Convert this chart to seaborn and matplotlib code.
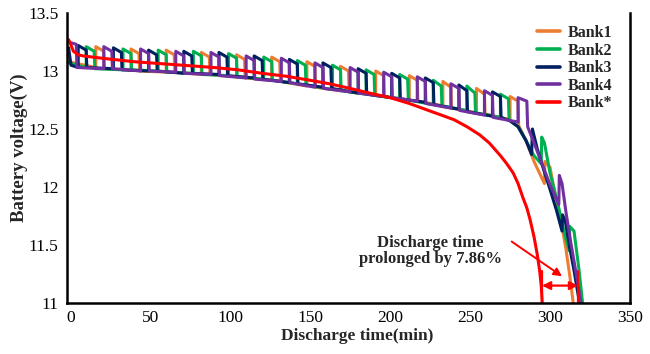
import numpy as np
import pandas as pd
import matplotlib
matplotlib.use("Agg")
import matplotlib.pyplot as plt
import seaborn as sns

# ---------------- data ----------------
series_names = ["Bank1", "Bank2", "Bank3", "Bank4", "Bank*"]
series_colors = ["#ED7D31", "#00B050", "#002060", "#7030A0", "#FF0000"]

# Bank1 (orange)
bank1_t = [-1, 16, 16, 16, 21, 21.4, 38, 38, 43, 43.4, 60, 60, 65, 65.4, 82, 82, 87, 87.4,
           104, 104, 109, 109.4, 126, 126, 131, 131.4, 148, 148, 153, 153.4, 169, 169, 174, 174.4,
           191, 191, 196, 196.4, 212, 212, 217, 217.4, 233, 233, 238, 238.4, 254, 254, 259, 259.4,
           275, 275, 280, 280.4, 285, 290, 296.5, 296.8, 300, 302, 304, 307, 310, 312.5, 314.7]
bank1_v = [13.08, 13.03, 13.03, 13.21, 13.17, 13.02, 13.01, 13.19, 13.15, 13.00, 12.99, 13.18, 13.14, 12.99,
           12.97, 13.16, 13.12, 12.97, 12.95, 13.14, 13.10, 12.94, 12.92, 13.12, 13.08, 12.91,
           12.87, 13.08, 13.04, 12.86, 12.83, 13.04, 13.00, 12.82, 12.79, 13.00, 12.96, 12.78,
           12.75, 12.96, 12.92, 12.74, 12.70, 12.91, 12.86, 12.68, 12.64, 12.85, 12.80, 12.63,
           12.58, 12.78, 12.74, 12.53, 12.40, 12.22, 12.03, 12.22, 12.17, 12.02, 11.89, 11.70,
           11.46, 11.22, 10.98]

# Bank2 (green)
bank2_t = [-1, 10, 10, 15, 15.4, 33, 33, 38, 38.4, 55, 55, 60, 60.4, 77, 77, 82, 82.4,
           99, 99, 104, 104.4, 121, 121, 126, 126.4, 142, 142, 147, 147.4, 164, 164, 169, 169.4,
           185, 185, 190, 190.4, 206, 206, 211, 211.4, 227, 227, 232, 232.4, 248, 248, 253, 253.4,
           269, 269, 274, 274.4, 280, 285, 290, 294.5, 294.8, 296.5, 300, 305, 309, 312, 312.3,
           315, 318, 320.5]
bank2_v = [13.07, 13.03, 13.21, 13.17, 13.02, 13.01, 13.19, 13.15, 13.01, 13.00, 13.18, 13.14, 12.99,
           12.98, 13.17, 13.13, 12.97, 12.96, 13.15, 13.11, 12.95, 12.93, 13.12, 13.08, 12.92,
           12.89, 13.09, 13.05, 12.88, 12.84, 13.05, 13.01, 12.83, 12.80, 13.01, 12.97, 12.79,
           12.76, 12.97, 12.93, 12.75, 12.71, 12.92, 12.87, 12.70, 12.66, 12.87, 12.81, 12.64,
           12.60, 12.80, 12.76, 12.58, 12.52, 12.40, 12.27, 12.20, 12.43, 12.38, 12.12, 11.85,
           11.60, 11.45, 11.66, 11.62, 11.30, 10.98]

# Bank3 (navy)
bank3_t = [-1, 0.5, 5, 5, 10, 10.4, 27, 27, 32, 32.4, 49, 49, 54, 54.4, 71, 71, 76, 76.4,
           93, 93, 98, 98.4, 115, 115, 120, 120.4, 137, 137, 142, 142.4, 158, 158, 163, 163.4,
           180, 180, 185, 185.4, 201, 201, 206, 206.4, 222, 222, 227, 227.4, 243, 243, 248, 248.4,
           264, 264, 269, 269.4, 275, 280, 285, 288.5, 289, 292, 296, 300, 304, 307.5, 307.8,
           309.5, 312, 315, 318.7]
bank3_v = [13.20, 13.05, 13.03, 13.22, 13.18, 13.03, 13.02, 13.20, 13.16, 13.01, 13.00, 13.18, 13.14, 13.00,
           12.98, 13.17, 13.13, 12.98, 12.97, 13.16, 13.12, 12.96, 12.94, 13.13, 13.09, 12.93,
           12.90, 13.10, 13.06, 12.89, 12.86, 13.07, 13.03, 12.85, 12.81, 13.02, 12.98, 12.80,
           12.77, 12.98, 12.94, 12.76, 12.73, 12.94, 12.90, 12.71, 12.67, 12.88, 12.83, 12.65,
           12.61, 12.82, 12.78, 12.60, 12.57, 12.52, 12.40, 12.28, 12.50, 12.33, 12.15, 11.98,
           11.80, 11.62, 11.76, 11.71, 11.50, 11.28, 10.98]

# Bank4 (purple)
bank4_t = [-1, 3.8, 4.2, 21, 21, 26, 26.4, 44, 44, 49, 49.4, 66, 66, 71, 71.4, 88, 88, 93, 93.4,
           110, 110, 115, 115.4, 132, 132, 137, 137.4, 153, 153, 158, 158.4, 175, 175, 180, 180.4,
           196, 196, 201, 201.4, 217, 217, 222, 222.4, 238, 238, 243, 243.4, 259, 259, 264, 264.4,
           280, 280, 285.5, 286, 290, 295, 300, 305.5, 305.8, 307.5, 310, 313, 316, 319.6]
bank4_v = [13.25, 13.23, 13.03, 13.02, 13.21, 13.17, 13.02, 13.00, 13.19, 13.15, 13.00,
           12.99, 13.17, 13.13, 12.98, 12.97, 13.16, 13.12, 12.96, 12.94, 13.13, 13.09, 12.93,
           12.91, 13.11, 13.07, 12.90, 12.86, 13.07, 13.03, 12.85, 12.82, 13.03, 12.99, 12.81,
           12.78, 12.99, 12.95, 12.77, 12.74, 12.95, 12.91, 12.72, 12.68, 12.89, 12.85, 12.66,
           12.62, 12.83, 12.79, 12.60, 12.56, 12.77, 12.74, 12.52, 12.38, 12.20, 12.02, 11.85,
           12.10, 12.03, 11.78, 11.52, 11.28, 10.98]

# Bank* (red)
bankS_t = [-1, 0, 2, 5, 8, 14, 20, 30, 40, 50, 60, 75, 90, 105, 120, 135, 150, 162, 175, 187,
           200, 212, 220, 230, 240, 248, 256, 262, 269, 273, 277, 280, 283, 285.5, 287.5, 290,
           292, 293.5, 294.5, 295.2]
bankS_v = [13.27, 13.24, 13.17, 13.14, 13.13, 13.12, 13.11, 13.095, 13.08, 13.07, 13.06, 13.045,
           13.03, 13.01, 12.98, 12.955, 12.92, 12.89, 12.85, 12.81, 12.77, 12.72, 12.68, 12.63,
           12.58, 12.52, 12.45, 12.38, 12.27, 12.20, 12.12, 12.03, 11.91, 11.82, 11.72, 11.57,
           11.42, 11.28, 11.15, 10.98]

x_ticks = [0, 50, 100, 150, 200, 250, 300, 350]
y_ticks = [11, 11.5, 12, 12.5, 13, 13.5]
x_label = "Discharge time(min)"
y_label = "Battery voltage(V)"
note_text = "Discharge time\nprolonged by 7.86%"
end_bankS = 295.0
end_banks = 317.5

# ---------------- build table ----------------
frames = []
for name, t, v in zip(series_names,
                      [bank1_t, bank2_t, bank3_t, bank4_t, bankS_t],
                      [bank1_v, bank2_v, bank3_v, bank4_v, bankS_v]):
    frames.append(pd.DataFrame({"time": t, "voltage": v, "bank": name}))
df = pd.concat(frames, ignore_index=True)

# ---------------- style ----------------
sns.set_theme(style="white")
plt.rcParams["font.family"] = ["Liberation Serif", "DejaVu Serif"]

fig = plt.figure(figsize=(6.5, 3.54), dpi=100)
ax = fig.add_axes([67 / 650, 1 - 303 / 354, (630 - 67) / 650, (303 - 13) / 354])

sns.lineplot(data=df, x="time", y="voltage", hue="bank", hue_order=series_names,
             palette=series_colors, estimator=None, sort=False, units="bank",
             linewidth=2.2, legend=False, ax=ax)

ax.set_xlim(-2, 350)
ax.set_ylim(11, 13.5)
ax.set_xticks(x_ticks)
ax.set_yticks(y_ticks)
ax.set_xticklabels([f"{v:g}" for v in x_ticks])
ax.set_yticklabels([f"{v:g}" for v in y_ticks])
ax.tick_params(axis="both", direction="out", length=4, width=1.3, labelsize=12.5,
               colors="black", pad=2)
ax.tick_params(axis="x", pad=1)
for side in ["left", "bottom", "right"]:
    ax.spines[side].set_visible(True)
    ax.spines[side].set_color("black")
    ax.spines[side].set_linewidth(1.8)
ax.spines["top"].set_visible(False)

ax.set_xlabel(x_label, fontsize=12.5, fontweight="bold")
ax.set_ylabel(y_label, fontsize=13.5, fontweight="bold")
ax.xaxis.set_label_coords((357 - 67) / (630 - 67), -(328 - 303) / (303 - 13))
ax.yaxis.set_label_coords(-(67 - 28) / (630 - 67), (303 - 148) / (303 - 13))

# legend
from matplotlib.lines import Line2D
handles = [Line2D([0], [0], color=c, lw=2.6) for c in series_colors]
leg = fig.legend(handles, series_names, loc="upper right",
                 bbox_to_anchor=(612 / 650, 1 - 25 / 354), frameon=False,
                 prop={"weight": "bold", "size": 11.5, "family": "Liberation Serif"},
                 handlelength=1.45, handletextpad=0.45, labelspacing=0.1,
                 borderpad=0, borderaxespad=0)

# annotation
ax.text(225, 11.45, note_text, ha="center", va="center", fontsize=12,
        fontweight="bold", linespacing=1.0)
ax.annotate("", xy=(307.5, 11.23), xytext=(276, 11.53),
            arrowprops=dict(arrowstyle="-|>", color="red", lw=1.4,
                            mutation_scale=12, shrinkA=0, shrinkB=0))
ax.annotate("", xy=(end_bankS, 11.15), xytext=(end_banks, 11.15),
            arrowprops=dict(arrowstyle="<|-|>", color="red", lw=1.6,
                            mutation_scale=12, shrinkA=0, shrinkB=0))
ax.plot([end_bankS, end_bankS], [11.0, 11.28], color="red", lw=1.6)
ax.plot([end_banks, end_banks], [11.0, 11.28], color="red", lw=1.6)

fig.savefig("out.png", dpi=100)
